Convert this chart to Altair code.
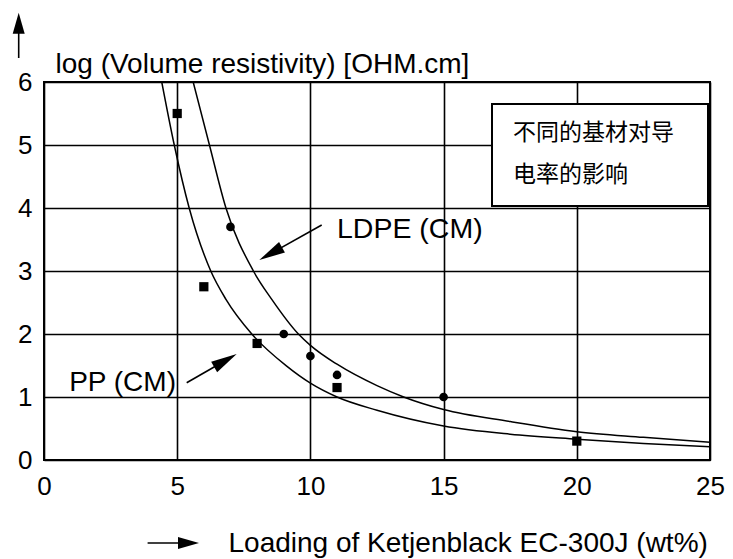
import math
import altair as alt
import pandas as pd

# ---------------- data ----------------
pp_curve_x = [4.42, 4.89, 5.45, 6.26, 6.83, 7.80, 9.11, 10.0, 11.0, 12.5, 15.0, 17.5, 20.0, 22.5, 25.0]
pp_curve_y = [6.0, 5.0, 4.0, 3.0, 2.55, 2.0, 1.49, 1.22, 1.0, 0.79, 0.54, 0.41, 0.33, 0.26, 0.21]
ldpe_curve_x = [5.60, 6.21, 6.83, 7.86, 8.55, 9.55, 10.0, 11.0, 12.5, 13.5, 15.0, 17.5, 20.0, 22.5, 25.0]
ldpe_curve_y = [6.0, 5.0, 4.0, 3.0, 2.55, 2.0, 1.82, 1.52, 1.18, 1.0, 0.80, 0.61, 0.45, 0.36, 0.28]

pp_pts_x = [5, 6, 8, 11, 20]
pp_pts_y = [5.5, 2.75, 1.85, 1.15, 0.3]
ldpe_pts_x = [7, 9, 10, 11, 15]
ldpe_pts_y = [3.7, 2.0, 1.65, 1.35, 1.0]

x_ticks = [0, 5, 10, 15, 20, 25]
y_ticks = [0, 1, 2, 3, 4, 5, 6]

x_title = "Loading of Ketjenblack EC-300J (wt%)"
y_title = "log (Volume resistivity) [OHM.cm]"
ldpe_label = "LDPE (CM)"
pp_label = "PP (CM)"
note_lines = ["不同的基材对导", "电率的影响"]

# ---------------- layout ----------------
FONT = "Liberation Sans, Arial, Helvetica, sans-serif"
CJK = "Noto Sans CJK SC"
W, H = 666, 378
OX, OY = 44, 82  # plot origin on the page (used to place annotations)

curves = pd.concat([
    pd.DataFrame({"x": pp_curve_x, "y": pp_curve_y, "s": "PP"}),
    pd.DataFrame({"x": ldpe_curve_x, "y": ldpe_curve_y, "s": "LDPE"}),
])
pp_pts = pd.DataFrame({"x": pp_pts_x, "y": pp_pts_y})
ldpe_pts = pd.DataFrame({"x": ldpe_pts_x, "y": ldpe_pts_y})
one = pd.DataFrame({"k": [0]})

xs = alt.Scale(domain=[0, 25], nice=False, zero=False)
ys = alt.Scale(domain=[0, 6], nice=False, zero=False)

x_axis = alt.Axis(
    values=x_ticks, format="d", grid=True, gridColor="black", gridWidth=1.6, gridOpacity=1,
    domain=False, ticks=False, labelFontSize=26, labelFont=FONT, labelColor="black",
    labelPadding=13, labelFlush=False, labelOverlap=False,
    title=x_title, titleFont=FONT, titleFontSize=28, titleFontWeight="normal",
    titleColor="black", titleX=228 - OX, titleY=551 - 460, titleAlign="left",
    titleBaseline="alphabetic",
)
y_axis = alt.Axis(
    values=y_ticks, format="d", grid=True, gridColor="black", gridWidth=1.6, gridOpacity=1,
    domain=False, ticks=False, labelFontSize=26, labelFont=FONT, labelColor="black",
    labelPadding=12, labelOverlap=False,
    title=y_title, titleFont=FONT, titleFontSize=28, titleFontWeight="normal",
    titleColor="black", titleAngle=0, titleX=55 - OX, titleY=72 - OY, titleAlign="left",
    titleBaseline="alphabetic",
)

lines = alt.Chart(curves).mark_line(color="black", strokeWidth=1.5, interpolate="monotone", clip=True).encode(
    x=alt.X("x:Q", scale=xs, axis=x_axis),
    y=alt.Y("y:Q", scale=ys, axis=y_axis),
    detail="s:N",
)
sq = alt.Chart(pp_pts).mark_point(shape="square", filled=True, size=85, color="black", opacity=1).encode(
    x=alt.X("x:Q", scale=xs), y=alt.Y("y:Q", scale=ys)
)
ci = alt.Chart(ldpe_pts).mark_point(shape="circle", filled=True, size=75, color="black", opacity=1).encode(
    x=alt.X("x:Q", scale=xs), y=alt.Y("y:Q", scale=ys)
)


def px(v):
    return alt.value(v - OX)


def py(v):
    return alt.value(v - OY)


def arrow(tail, tip, head_len, head_w, width=1.6):
    dx, dy = tip[0] - tail[0], tip[1] - tail[1]
    L = math.hypot(dx, dy)
    ux, uy = dx / L, dy / L
    cx, cy = tip[0] - ux * head_len / 2, tip[1] - uy * head_len / 2
    ang = math.degrees(math.atan2(dx, -dy)) % 360
    hw = head_w / head_len
    shape = f"M0,-1L{hw:.3f},1L{-hw:.3f},1Z"
    shaft = alt.Chart(one).mark_rule(color="black", strokeWidth=width).encode(
        x=px(tail[0]), y=py(tail[1]), x2=px(cx), y2=py(cy)
    )
    head = alt.Chart(one).mark_point(shape=shape, filled=True, size=head_len ** 2,
                                     angle=ang, color="black", opacity=1, strokeWidth=0).encode(
        x=px(cx), y=py(cy)
    )
    return [shaft, head]


def text(t, x, y, size=28, align="left", baseline="alphabetic", font=FONT):
    return alt.Chart(one).mark_text(text=t, align=align, baseline=baseline, font=font,
                                    fontSize=size, color="black").encode(x=px(x), y=py(y))


box = alt.Chart(one).mark_rect(fill="white", stroke="black", strokeWidth=2).encode(
    x=px(492), x2=px(708), y=py(104), y2=py(206)
)

layers = [lines, sq, ci, box,
          text(note_lines[0], 513, 133, size=23, baseline="middle", font=CJK),
          text(note_lines[1], 513, 175, size=23, baseline="middle", font=CJK),
          text(ldpe_label, 337, 238, size=28.5),
          text(pp_label, 176, 391, size=28, align="right")]
layers += arrow((321.7, 225), (259.3, 260), 26, 12)
layers += arrow((186.7, 382.7), (236.7, 354), 26, 12)
layers += arrow((18.7, 58), (18.7, 12.7), 21, 12)
layers += arrow((147.6, 543), (199, 543), 21, 12)

chart = alt.layer(*layers).properties(
    width=W, height=H,
    autosize=alt.AutoSizeParams(type="none"),
    padding={"left": OX - 8, "top": OY - 8, "right": 15, "bottom": 99},
    background="white",
).configure_view(stroke="black", strokeWidth=2)

chart.save("out.html", embed_options={"renderer": "svg", "actions": False})
